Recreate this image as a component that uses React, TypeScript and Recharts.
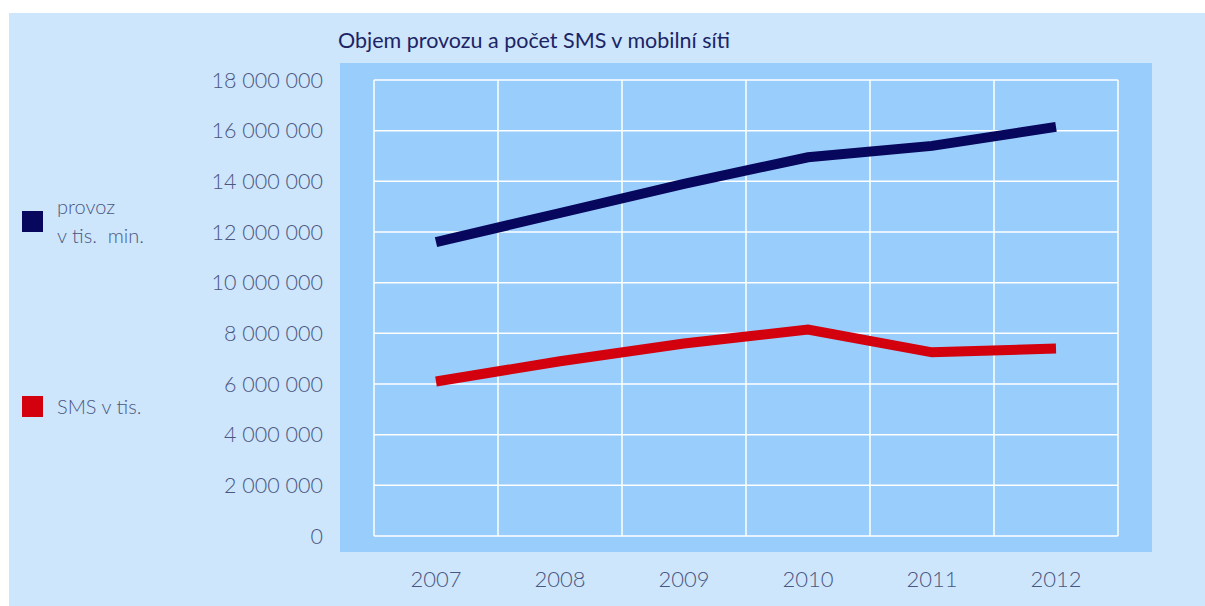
import React from 'react';
import {
  CartesianGrid,
  Legend,
  Line,
  LineChart,
  XAxis,
  YAxis,
} from 'recharts';

const years = ['2007', '2008', '2009', '2010', '2011', '2012'];
const provoz = [11600000, 12750000, 13900000, 14950000, 15400000, 16150000];
const sms = [6100000, 6900000, 7600000, 8150000, 7250000, 7400000];
const yTicks = [0, 2000000, 4000000, 6000000, 8000000, 10000000, 12000000, 14000000, 16000000, 18000000];

const data = years.map((year, i) => ({ year, provoz: provoz[i], sms: sms[i] }));

const FONT = 'Lato, "Open Sans", sans-serif';
const TEXT = '#4b5682';

const fmt = (v: number) => v.toLocaleString('en-US').replace(/,/g, ' ');

// vertical grid lines sit on the category band edges, not the centres
const bandEdges = ({ offset }: any) => {
  const step = offset.width / years.length;
  return years.map((_, i) => offset.left + i * step).concat(offset.left + offset.width);
};

const legendTop: Record<string, number> = { provoz: 192, sms: 392 };

const renderLegend = (props: any) => {
  const { payload } = props;
  return (
    <div style={{ position: 'relative', width: 0, height: 0 }}>
      {payload.map((p: any) => (
        <div key={p.dataKey} style={{ position: 'absolute', left: 22, top: legendTop[p.dataKey], display: 'flex', alignItems: 'center' }}>
          <div style={{ width: 21, height: 21, background: p.color, marginRight: 14, flex: 'none' }} />
          <div style={{ fontFamily: FONT, fontWeight: 300, fontSize: 20, color: TEXT, lineHeight: '29px', whiteSpace: 'pre' }}>
            {p.value}
          </div>
        </div>
      ))}
    </div>
  );
};

export default function App() {
  return (
    <div style={{ position: 'absolute', left: 0, top: 0, width: 1205, height: 606, background: '#fff', overflow: 'hidden' }}>
      <div style={{ position: 'absolute', left: 9, top: 13, width: 1196, height: 593, background: '#cde6fc' }} />
      <div style={{ position: 'absolute', left: 340, top: 63, width: 812, height: 489, background: '#99cdfb' }} />
      <div
        style={{
          position: 'absolute',
          left: 338,
          top: 27,
          fontFamily: FONT,
          fontSize: 21.5,
          color: '#1c2466',
          whiteSpace: 'nowrap',
        }}
      >
        Objem provozu a počet SMS v mobilní síti
      </div>
      <div style={{ position: 'absolute', left: 0, top: 0 }}>
        <LineChart width={1205} height={606} data={data} margin={{ top: 80, right: 87, bottom: 10, left: 214 }}>
          <CartesianGrid stroke='#ffffff' strokeWidth={1.5} verticalCoordinatesGenerator={bandEdges} />
          <XAxis
            dataKey='year'
            scale='band'
            axisLine={false}
            tickLine={false}
            height={60}
            tickMargin={29}
            tick={{ fontFamily: FONT, fontWeight: 300, fontSize: 22, fill: TEXT }}
          />
          <YAxis
            domain={[0, 18000000]}
            ticks={yTicks}
            axisLine={false}
            tickLine={false}
            width={160}
            tickMargin={45}
            tickFormatter={fmt}
            tick={{ fontFamily: FONT, fontWeight: 300, fontSize: 21.5, fill: TEXT }}
          />
          <Legend
            layout='vertical'
            verticalAlign='middle'
            align='center'
            content={renderLegend}
            wrapperStyle={{ left: 0, top: 0, width: 0, height: 0 }}
          />
          <Line
            type='linear'
            dataKey='provoz'
            name={'provoz\nv tis.  min.'}
            stroke='#07075e'
            strokeWidth={10}
            dot={false}
            isAnimationActive={false}
          />
          <Line
            type='linear'
            dataKey='sms'
            name='SMS v tis.'
            stroke='#d3000e'
            strokeWidth={10}
            dot={false}
            isAnimationActive={false}
          />
        </LineChart>
      </div>
    </div>
  );
}
